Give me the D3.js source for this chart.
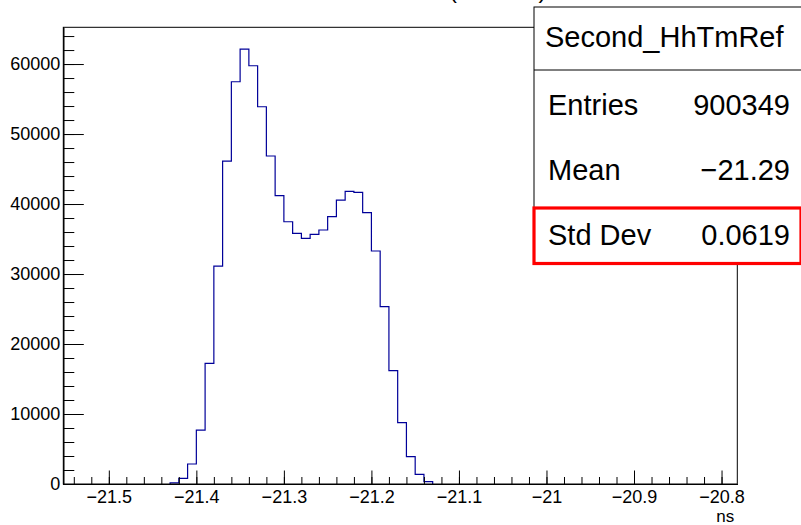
<!DOCTYPE html>
<html>
<head>
<meta charset="utf-8">
<script src="https://cdn.jsdelivr.net/npm/d3@7"></script>
<style>
  html, body { margin: 0; padding: 0; background: #fff; }
  svg { display: block; }
  text { font-family: "Liberation Sans", Arial, Helvetica, sans-serif; fill: #000; }
</style>
</head>
<body>
<svg id="chart" width="801" height="525"></svg>
<script>
// Histogram: lower edge of each filled bin (ns) and its count
const binLowEdges = [-21.43, -21.42, -21.41, -21.40, -21.39, -21.38, -21.37, -21.36, -21.35, -21.34,
                     -21.33, -21.32, -21.31, -21.30, -21.29, -21.28, -21.27, -21.26, -21.25, -21.24,
                     -21.23, -21.22, -21.21, -21.20, -21.19, -21.18, -21.17, -21.16, -21.15, -21.14];
const binCounts = [150, 810, 2860, 7710, 17240, 31140, 46140, 57470, 62140, 59760,
                   53900, 46860, 41190, 37470, 35810, 35100, 35670, 36290, 38190, 40570,
                   41810, 41670, 38760, 33290, 25330, 16190, 8760, 3900, 1380, 330];
const binWidth = 0.01;

const xDomain = [-21.552, -20.782];
const yDomain = [0, 65250];
const xTickValues = [-21.5, -21.4, -21.3, -21.2, -21.1, -21.0, -20.9, -20.8];
const xTickLabels = ["\u221221.5", "\u221221.4", "\u221221.3", "\u221221.2", "\u221221.1", "\u221221", "\u221220.9", "\u221220.8"];
const yTickValues = [0, 10000, 20000, 30000, 40000, 50000, 60000];
const yTickLabels = ["0", "10000", "20000", "30000", "40000", "50000", "60000"];

const histName = "Second_HhTmRef";
const statNames = ["Entries", "Mean", "Std Dev"];
const statValues = ["900349", "\u221221.29", "0.0619"];
const xTitle = "ns";
const plotTitle = "HhTm \u2212 Ref time (Second)";

const frame = { left: 63.3, right: 737.3, top: 27.3, bottom: 484 };

const svg = d3.select("#chart");

const x = d3.scaleLinear().domain(xDomain).range([frame.left, frame.right]);
const y = d3.scaleLinear().domain(yDomain).range([frame.bottom, frame.top]);

// title, mostly above the canvas
const title = svg.append("text")
  .attr("y", -2)
  .attr("font-size", 24)
  .text(plotTitle);
const tNode = title.node();
const parenIdx = plotTitle.indexOf("(");
const prefixW = parenIdx > 0 ? tNode.getSubStringLength(0, parenIdx) : 0;
title.attr("x", 449 - prefixW);

// step outline of the histogram
const stepPts = [];
stepPts.push([x(binLowEdges[0]), y(0)]);
binLowEdges.forEach((lo, i) => {
  stepPts.push([x(lo), y(binCounts[i])]);
  stepPts.push([x(lo + binWidth), y(binCounts[i])]);
});
stepPts.push([x(binLowEdges[binLowEdges.length - 1] + binWidth), y(0)]);

svg.append("path")
  .attr("d", d3.line()(stepPts))
  .attr("fill", "none")
  .attr("stroke", "#000099")
  .attr("stroke-width", 1.2);

// frame
svg.append("rect")
  .attr("x", frame.left).attr("y", frame.top)
  .attr("width", frame.right - frame.left)
  .attr("height", frame.bottom - frame.top)
  .attr("fill", "none")
  .attr("stroke", "#000")
  .attr("stroke-width", 1);

// x axis ticks (inward) with minor divisions
const xMinor = d3.range(-21.54, -20.78, 0.02).map(v => +v.toFixed(2));
const xAxisMinor = d3.axisBottom(x).tickValues(xMinor).tickSizeInner(-7).tickSizeOuter(0).tickFormat("");
const xAxisMajor = d3.axisBottom(x).tickValues(xTickValues).tickSizeInner(-13.5).tickSizeOuter(0)
  .tickPadding(6).tickFormat((d, i) => xTickLabels[i]);

const gxm = svg.append("g").attr("transform", `translate(0,${frame.bottom})`).call(xAxisMinor);
const gx = svg.append("g").attr("transform", `translate(0,${frame.bottom})`).call(xAxisMajor);
[gxm, gx].forEach(g => {
  g.select(".domain").attr("stroke", "#000");
  g.selectAll(".tick line").attr("stroke", "#000");
});
gx.selectAll(".tick text").attr("font-size", 18).attr("font-family", "Liberation Sans, Arial, sans-serif")
  .attr("fill", "#000");

// y axis ticks (inward) with minor divisions
const yMinor = d3.range(0, 65000, 2000);
const yAxisMinor = d3.axisLeft(y).tickValues(yMinor).tickSizeInner(-11).tickSizeOuter(0).tickFormat("");
const yAxisMajor = d3.axisLeft(y).tickValues(yTickValues).tickSizeInner(-20.5).tickSizeOuter(0)
  .tickPadding(3).tickFormat((d, i) => yTickLabels[i]);

const gym = svg.append("g").attr("transform", `translate(${frame.left},0)`).call(yAxisMinor);
const gy = svg.append("g").attr("transform", `translate(${frame.left},0)`).call(yAxisMajor);
[gym, gy].forEach(g => {
  g.select(".domain").attr("stroke", "#000");
  g.selectAll(".tick line").attr("stroke", "#000");
});
gy.selectAll(".tick text").attr("font-size", 18).attr("font-family", "Liberation Sans, Arial, sans-serif")
  .attr("fill", "#000");

// axis title
svg.append("text")
  .attr("x", frame.right - 3)
  .attr("y", 522)
  .attr("text-anchor", "end")
  .attr("font-size", 17)
  .text(xTitle);

// statistics box
const stat = { left: 534, top: 7, right: 803, bottom: 264, sep: 70 };
svg.append("rect")
  .attr("x", stat.left).attr("y", stat.top)
  .attr("width", stat.right - stat.left).attr("height", stat.bottom - stat.top)
  .attr("fill", "#fff").attr("stroke", "#000").attr("stroke-width", 1);
svg.append("line")
  .attr("x1", stat.left).attr("x2", stat.right)
  .attr("y1", stat.sep).attr("y2", stat.sep)
  .attr("stroke", "#000").attr("stroke-width", 1);
svg.append("text")
  .attr("x", 545).attr("y", 47)
  .attr("font-size", 29)
  .text(histName);

const rowBase = [115, 180, 245];
statNames.forEach((name, i) => {
  svg.append("text").attr("x", 548).attr("y", rowBase[i]).attr("font-size", 29).text(name);
  svg.append("text").attr("x", 790).attr("y", rowBase[i]).attr("font-size", 29)
    .attr("text-anchor", "end").text(statValues[i]);
});

// highlight around the spread row
svg.append("rect")
  .attr("x", 534).attr("y", 208)
  .attr("width", 267).attr("height", 55.5)
  .attr("fill", "none")
  .attr("stroke", "#ff0000")
  .attr("stroke-width", 3.2);
</script>
</body>
</html>
